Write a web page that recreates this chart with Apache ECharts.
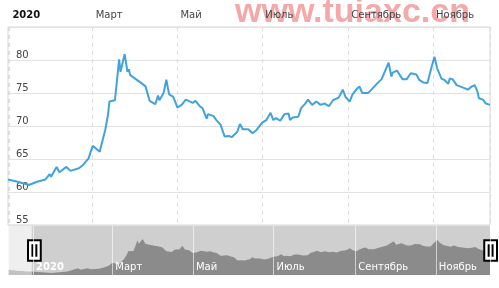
<!DOCTYPE html>
<html>
<head>
<meta charset="utf-8">
<script src="https://cdn.jsdelivr.net/npm/echarts@6/dist/echarts.min.js"></script>
<style>
html,body{margin:0;padding:0;background:#fff;}
#chart{width:499px;height:288px;}
</style>
</head>
<body>
<div id="chart"></div>
<script>
// ---- data ----
const dates = [
  '2019-12-13','2019-12-17','2019-12-20','2019-12-24','2019-12-27','2019-12-31',
  '2020-01-07','2020-01-15','2020-01-21','2020-01-27','2020-01-30','2020-01-31',
  '2020-02-04','2020-02-06','2020-02-11','2020-02-14','2020-02-20','2020-02-23','2020-02-27',
  '2020-03-01','2020-03-06','2020-03-10','2020-03-12','2020-03-13','2020-03-17','2020-03-20',
  '2020-03-21','2020-03-24','2020-03-26','2020-03-27','2020-03-28',
  '2020-04-05','2020-04-08','2020-04-11','2020-04-15','2020-04-17','2020-04-18','2020-04-21',
  '2020-04-23','2020-04-25','2020-04-28',
  '2020-05-01','2020-05-04','2020-05-07','2020-05-12','2020-05-14','2020-05-17','2020-05-19',
  '2020-05-22','2020-05-23','2020-05-27','2020-05-29',
  '2020-06-01','2020-06-04','2020-06-07','2020-06-09','2020-06-13','2020-06-15','2020-06-17',
  '2020-06-21','2020-06-24','2020-06-27',
  '2020-07-01','2020-07-04','2020-07-07','2020-07-09','2020-07-11','2020-07-14','2020-07-17',
  '2020-07-20','2020-07-21','2020-07-23','2020-07-27','2020-07-29',
  '2020-08-01','2020-08-03','2020-08-06','2020-08-09','2020-08-12','2020-08-15','2020-08-18',
  '2020-08-21','2020-08-25','2020-08-28','2020-08-30',
  '2020-09-02','2020-09-04','2020-09-07','2020-09-09','2020-09-11','2020-09-15','2020-09-17',
  '2020-09-22','2020-09-25','2020-09-30',
  '2020-10-02','2020-10-03','2020-10-06','2020-10-10','2020-10-13','2020-10-16','2020-10-20',
  '2020-10-22','2020-10-25','2020-10-28','2020-10-30',
  '2020-11-02','2020-11-04','2020-11-07','2020-11-09','2020-11-12','2020-11-13','2020-11-15',
  '2020-11-18','2020-11-24','2020-11-26','2020-11-29',
  '2020-12-01','2020-12-03','2020-12-04','2020-12-07','2020-12-09','2020-12-10','2020-12-12'
];
const values = [
  62.9, 62.6, 62.4, 62.2, 62.0, 61.9,
  61.56, 61.06, 61.56, 61.9, 62.7, 62.3,
  63.8, 63.0, 63.8, 63.2, 63.6, 64.1, 65.1,
  67.0, 66.1, 69.4, 71.7, 73.7, 73.9, 80.1,
  78.2, 80.9, 78.2, 78.6, 77.7,
  76.5, 76.0, 73.8, 73.3, 74.6, 73.9, 75.0,
  77.0, 74.8, 74.4,
  72.8, 73.2, 74.0, 73.5, 73.8, 73.0, 72.7,
  71.1, 71.8, 71.5, 70.9,
  70.2, 68.4, 68.5, 68.3, 69.1, 70.3, 69.5,
  69.5, 68.9, 69.4,
  70.5, 70.9, 72.0, 70.9, 71.2, 70.8, 71.8,
  71.9, 70.9, 71.3, 71.4, 72.7,
  73.4, 74.0, 73.2, 73.7, 73.2, 73.4, 73.0,
  73.9, 74.3, 75.5, 74.4,
  73.7, 74.8, 75.6, 76.0, 75.0, 75.0, 75.35,
  76.5, 77.1, 79.6,
  77.5, 78.1, 78.4, 77.1, 77.1, 78.0, 77.8,
  77.0, 76.6, 76.5, 78.2,
  80.5, 78.7, 77.2, 77.0, 76.4, 77.2, 77.1,
  76.2, 75.7, 75.5, 76.0,
  76.2, 75.2, 74.2, 74.0, 73.4, 73.7, 73.2
];
const monthNames = ['Январь','Февраль','Март','Апрель','Май','Июнь','Июль','Август','Сентябрь','Октябрь','Ноябрь','Декабрь'];
const selectionStart = '2019-12-31';
const watermark = 'www.tuiaxc.cn';

// ---- helpers ----
function ts(s) { const p = s.split('-').map(Number); return new Date(p[0], p[1] - 1, p[2]).getTime(); }
const data = dates.map((d, i) => [ts(d), values[i]]);
const selTs = ts(selectionStart);
const pastData = data.filter(p => p[0] <= selTs);
const selData = data.filter(p => p[0] >= selTs);

function monthLabel(val) {
  const d = new Date(val);
  if (d.getDate() !== 1 || d.getHours() !== 0) return '';
  const m = d.getMonth();
  if (m === 0) return '{y|' + d.getFullYear() + '}';
  return '{m|' + monthNames[m] + '}';
}

const FONT = 'DejaVu Sans';
const chart = echarts.init(document.getElementById('chart'), null, { renderer: 'canvas' });

chart.setOption({
  animation: false,
  backgroundColor: '#ffffff',
  graphic: [{
    type: 'text',
    left: 235,
    top: -4,
    z: -10,
    silent: true,
    style: {
      text: watermark,
      font: 'bold 34px "Liberation Sans"',
      fill: '#f4a8a8'
    }
  }],
  grid: [
    { left: 8, right: 9, top: 27, bottom: 63, show: true, borderColor: '#d6d6d6', borderWidth: 1, backgroundColor: 'transparent' },
    { left: 8, right: 9, top: 226, height: 49, show: true, backgroundColor: '#cfcfcf', borderWidth: 0 }
  ],
  xAxis: [
    {
      type: 'time', gridIndex: 0, position: 'top', splitNumber: 5,
      axisLine: { show: false }, axisTick: { show: false },
      splitLine: { show: true, lineStyle: { color: '#dddddd', type: [4, 4], width: 1 } },
      axisLabel: {
        formatter: monthLabel, align: 'left', margin: 7, padding: [0, 0, 0, 3],
        hideOverlap: false,
        rich: {
          y: { fontFamily: FONT, fontSize: 10, fontWeight: 'bold', color: '#111' },
          m: { fontFamily: FONT, fontSize: 10, color: '#444' }
        }
      }
    },
    {
      type: 'time', gridIndex: 1, min: 'dataMin', max: 'dataMax', splitNumber: 5, z: 5,
      axisLine: { show: false }, axisTick: { show: false },
      splitLine: { show: true, lineStyle: { color: 'rgba(255,255,255,0.6)', width: 1 } },
      axisLabel: {
        inside: true, formatter: monthLabel, align: 'left', margin: 3, padding: [0, 0, 0, 3],
        hideOverlap: false,
        rich: {
          y: { fontFamily: FONT, fontSize: 10, fontWeight: 'bold', color: '#fff' },
          m: { fontFamily: FONT, fontSize: 10, color: '#fff' }
        }
      }
    }
  ],
  yAxis: [
    {
      type: 'value', gridIndex: 0, min: 55, max: 85, interval: 5,
      axisLine: { show: false }, axisTick: { show: false },
      splitLine: { lineStyle: { color: '#e2e2e2', width: 1 } },
      axisLabel: {
        inside: true, margin: 8, verticalAlign: 'bottom', lineHeight: 10,
        fontFamily: FONT, fontSize: 10, color: '#444',
        formatter: v => (v >= 85 ? '' : String(v))
      }
    },
    { type: 'value', gridIndex: 1, min: 59.9, max: 88.5, show: false, splitLine: { show: false } }
  ],
  dataZoom: [{
    type: 'slider', xAxisIndex: 0, filterMode: 'filter',
    startValue: selTs, endValue: data[data.length - 1][0],
    left: 8, right: 9, top: 226, height: 49,
    backgroundColor: 'rgba(0,0,0,0)', borderColor: 'rgba(0,0,0,0)', fillerColor: 'rgba(0,0,0,0)',
    showDataShadow: false, showDetail: false, brushSelect: false,
    moveHandleSize: 0,
    handleIcon: 'path://M0,0H13V21H0Z M4.5,4V17 M8.5,4V17',
    handleSize: '42%',
    handleStyle: { color: '#ffffff', borderColor: '#000000', borderWidth: 2 },
    dataBackground: { lineStyle: { opacity: 0 }, areaStyle: { opacity: 0 } },
    selectedDataBackground: { lineStyle: { opacity: 0 }, areaStyle: { opacity: 0 } }
  }],
  series: [
    {
      type: 'line', xAxisIndex: 0, yAxisIndex: 0, data: data,
      showSymbol: false, symbol: 'none', clip: true,
      lineStyle: { color: '#41a3dd', width: 2 }
    },
    {
      type: 'line', xAxisIndex: 1, yAxisIndex: 1, data: pastData,
      showSymbol: false, symbol: 'none', silent: true,
      lineStyle: { width: 0 }, areaStyle: { color: '#c2c2c2', opacity: 1 },
      markArea: {
        silent: true,
        itemStyle: { color: '#efefef' },
        data: [[{ xAxis: pastData[0][0] }, { xAxis: selTs }]]
      }
    },
    {
      type: 'line', xAxisIndex: 1, yAxisIndex: 1, data: selData,
      showSymbol: false, symbol: 'none', silent: true,
      lineStyle: { width: 0 }, areaStyle: { color: '#8b8b8b', opacity: 1 }
    }
  ]
});
</script>
</body>
</html>
